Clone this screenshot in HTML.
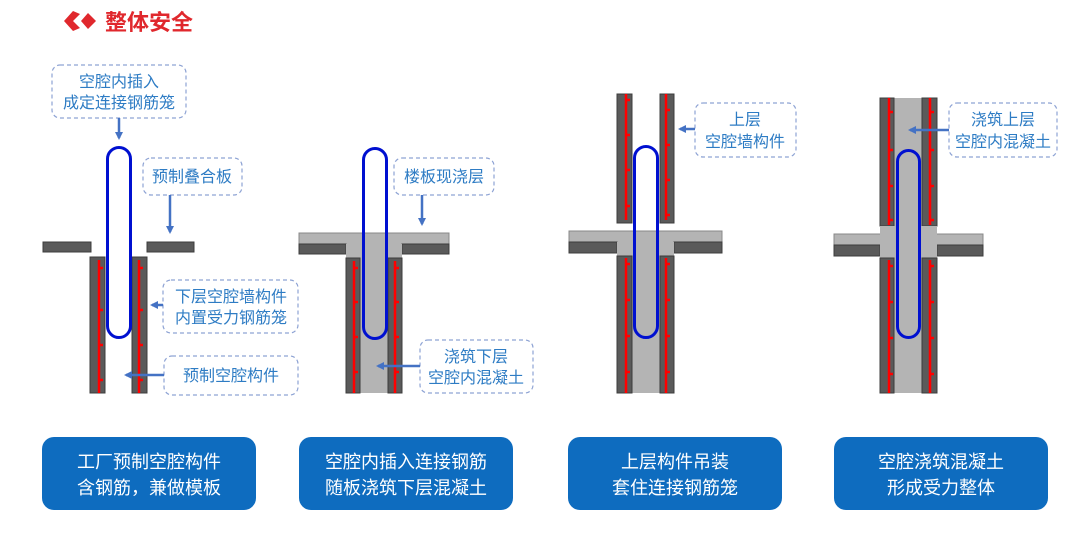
<!DOCTYPE html>
<html><head><meta charset="utf-8"><style>
body{margin:0;background:#fff;width:1080px;height:533px;overflow:hidden}
svg{display:block;font-family:"Liberation Sans","Noto Sans CJK SC",sans-serif}
.lb{fill:#2e7cc4;font-size:16px;text-anchor:middle}
.bx{fill:#fff;stroke:#8ea3d4;stroke-width:1.2;stroke-dasharray:4 3}
.ar{stroke:#4472c4;stroke-width:2.5;fill:none;marker-end:url(#ah)}
.dk{fill:#5a5a5a;stroke:#3c3c3c;stroke-width:1}
.lg{fill:#b4b4b4}
.rb{stroke:#ff0000;stroke-width:2.5;fill:none}
.lp{fill:none;stroke:#0010d0;stroke-width:3}
.bt{fill:#0e6cbf}
.bw{fill:#fff;font-size:18px;text-anchor:middle}
</style></head><body>
<svg width="1080" height="533" viewBox="0 0 1080 533">
<defs>
<marker id="ah" markerWidth="10" markerHeight="10" refX="6" refY="4" orient="auto" markerUnits="userSpaceOnUse"><path d="M0,0 L8,4 L0,8z" fill="#4472c4"/></marker>
</defs>
<!-- title -->
<path d="M73,11 L80,14 L73,21 L80,28 L73,31 L64,21 Z" fill="#e0282d"/>
<path d="M81,21 L88,13 L96,21 L88,29 Z" fill="#e0282d"/>
<text x="105" y="30" font-size="22" font-weight="bold" fill="#e0282d">整体安全</text>

<!-- Panel 1 -->
<rect class="dk" x="43" y="242" width="48" height="10"/>
<rect class="dk" x="147" y="242" width="47" height="10"/>
<rect class="dk" x="90" y="257" width="15" height="136"/>
<rect class="dk" x="132" y="257" width="15" height="136"/>
<path class="rb" d="M99,260V393 M99,268h4 M99,310h4 M99,345h4 M99,380h4"/>
<path class="rb" d="M139,260V393 M139,268h4 M139,310h4 M139,345h4 M139,380h4"/>
<rect class="lp" x="107.5" y="147.5" width="23" height="190" rx="11.5"/>
<rect class="bx" x="52" y="65" width="134" height="53" rx="8"/>
<text class="lb" x="119" y="87">空腔内插入</text><text class="lb" x="119" y="108">成定连接钢筋笼</text>
<path class="ar" d="M119,118V138"/>
<rect class="bx" x="143" y="158" width="99" height="37" rx="8"/>
<text class="lb" x="192" y="182">预制叠合板</text>
<path class="ar" d="M170,195V232"/>
<rect class="bx" x="163" y="280" width="135" height="53" rx="8"/>
<text class="lb" x="231" y="302">下层空腔墙构件</text><text class="lb" x="231" y="323">内置受力钢筋笼</text>
<path class="ar" d="M163,305H152"/>
<rect class="bx" x="164" y="356" width="134" height="39" rx="8"/>
<text class="lb" x="231" y="381">预制空腔构件</text>
<path class="ar" d="M164,375H126"/>

<!-- Panel 2 -->
<rect class="lg" x="299" y="233" width="150" height="21" stroke="#888" stroke-width="1"/>
<rect class="dk" x="299" y="244" width="47" height="10"/>
<rect class="dk" x="402" y="244" width="47" height="10"/>
<rect class="lg" x="346" y="244" width="56" height="149"/>
<rect class="dk" x="346" y="258" width="14" height="135"/>
<rect class="dk" x="388" y="258" width="14" height="135"/>
<path class="rb" d="M354,261V393 M354,268h4 M354,302h4 M354,337h4 M354,372h4"/>
<path class="rb" d="M395,261V393 M395,268h4 M395,302h4 M395,337h4 M395,372h4"/>
<rect class="lp" x="363.5" y="148.5" width="23" height="190" rx="11.5"/>
<rect class="bx" x="394" y="158" width="100" height="37" rx="8"/>
<text class="lb" x="444" y="182">楼板现浇层</text>
<path class="ar" d="M422,195V224"/>
<rect class="bx" x="420" y="340" width="113" height="53" rx="8"/>
<text class="lb" x="476" y="362">浇筑下层</text><text class="lb" x="476" y="383">空腔内混凝土</text>
<path class="ar" d="M420,366H378"/>

<!-- Panel 3 -->
<rect class="dk" x="617" y="94" width="15" height="129"/>
<rect class="dk" x="660" y="94" width="14" height="129"/>
<path class="rb" d="M626,94V220 M626,100h4 M626,135h4 M626,170h4 M626,206h4"/>
<path class="rb" d="M666,94V220 M666,110h4 M666,145h4 M666,180h4 M666,215h4"/>
<rect class="lg" x="569" y="231" width="153" height="22" stroke="#888" stroke-width="1"/>
<rect class="dk" x="569" y="242" width="48" height="11"/>
<rect class="dk" x="674" y="242" width="48" height="11"/>
<rect class="lg" x="617" y="242" width="57" height="151"/>
<rect class="dk" x="617" y="256" width="15" height="137"/>
<rect class="dk" x="660" y="256" width="14" height="137"/>
<path class="rb" d="M626,258V393 M626,264h4 M626,300h4 M626,336h4 M626,372h4"/>
<path class="rb" d="M666,258V393 M666,264h4 M666,300h4 M666,336h4 M666,372h4"/>
<rect class="lp" x="634.5" y="146.5" width="23" height="191" rx="11.5"/>
<rect class="bx" x="695" y="103" width="101" height="54" rx="8"/>
<text class="lb" x="745" y="125">上层</text><text class="lb" x="745" y="147">空腔墙构件</text>
<path class="ar" d="M695,129H680"/>

<!-- Panel 4 -->
<rect class="lg" x="880" y="98" width="57" height="295"/>
<rect class="dk" x="880" y="98" width="14" height="128"/>
<rect class="dk" x="922" y="98" width="15" height="128"/>
<path class="rb" d="M889,98V225 M889,112h4 M889,150h4 M889,186h4 M889,220h4"/>
<path class="rb" d="M930,98V225 M930,112h4 M930,150h4 M930,186h4 M930,220h4"/>
<rect class="lg" x="834" y="234" width="149" height="22" stroke="#888" stroke-width="1"/>
<rect class="dk" x="834" y="245" width="46" height="11"/>
<rect class="dk" x="937" y="245" width="46" height="11"/>
<rect class="lg" x="880" y="226" width="57" height="32"/>
<rect class="dk" x="880" y="258" width="14" height="135"/>
<rect class="dk" x="922" y="258" width="15" height="135"/>
<path class="rb" d="M889,260V393 M889,266h4 M889,302h4 M889,338h4 M889,374h4"/>
<path class="rb" d="M930,260V393 M930,266h4 M930,302h4 M930,338h4 M930,374h4"/>
<rect class="lp" x="897.5" y="150.5" width="22" height="187" rx="11"/>
<rect class="bx" x="949" y="103" width="108" height="54" rx="8"/>
<text class="lb" x="1003" y="125">浇筑上层</text><text class="lb" x="1003" y="147">空腔内混凝土</text>
<path class="ar" d="M949,130H910"/>

<!-- Buttons -->
<rect class="bt" x="42" y="437" width="214" height="73" rx="12"/>
<text class="bw" x="149" y="468">工厂预制空腔构件</text><text class="bw" x="149" y="494">含钢筋，兼做模板</text>
<rect class="bt" x="299" y="437" width="214" height="73" rx="12"/>
<text class="bw" x="406" y="468">空腔内插入连接钢筋</text><text class="bw" x="406" y="494">随板浇筑下层混凝土</text>
<rect class="bt" x="568" y="437" width="214" height="73" rx="12"/>
<text class="bw" x="675" y="468">上层构件吊装</text><text class="bw" x="675" y="494">套住连接钢筋笼</text>
<rect class="bt" x="834" y="437" width="214" height="73" rx="12"/>
<text class="bw" x="941" y="468">空腔浇筑混凝土</text><text class="bw" x="941" y="494">形成受力整体</text>
</svg>
</body></html>
